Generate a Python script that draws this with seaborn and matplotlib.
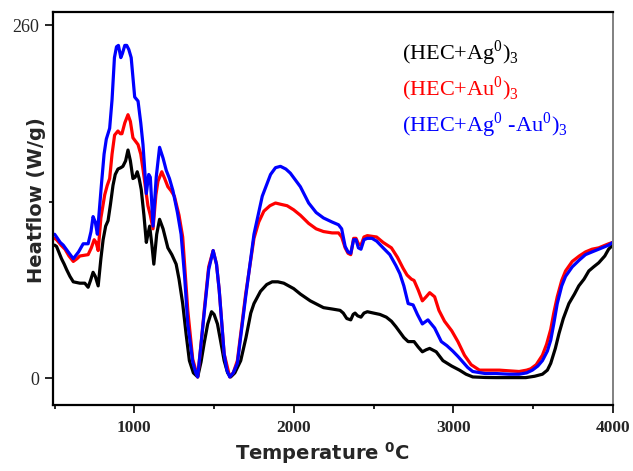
import numpy as np
import pandas as pd
from matplotlib import pyplot as plt
from matplotlib.ticker import FixedLocator
import seaborn as sns

# temperature / heat flow
t_ag = [500, 512, 543, 560, 575, 596, 617, 658, 689, 710, 725, 741, 755, 773, 790, 804, 820, 835, 850, 866,
        880, 897, 915, 928, 945, 960, 975, 991, 1005, 1018, 1030, 1043, 1060, 1075, 1085, 1096, 1110, 1122,
        1140, 1158, 1180, 1210, 1235, 1262, 1280, 1303, 1325, 1345, 1370, 1397, 1418, 1438, 1460, 1484,
        1500, 1521, 1540, 1563, 1585, 1604, 1630, 1667, 1700, 1730, 1750, 1791, 1830, 1864, 1900, 1937,
        1999, 2041, 2103, 2186, 2240, 2290, 2310, 2332, 2357, 2372, 2384, 2400, 2421, 2440, 2461, 2500,
        2540, 2580, 2612, 2640, 2665, 2690, 2717, 2754, 2780, 2806, 2830, 2852, 2893, 2935, 2990, 3039,
        3080, 3122, 3200, 3268, 3350, 3455, 3510, 3559, 3590, 3611, 3640, 3663, 3690, 3725, 3760, 3787,
        3820, 3850, 3880, 3912, 3950, 3974, 4000]
hf_ag = [98, 97, 88, 84, 80, 75, 71, 70, 70, 67, 72, 78, 75, 68, 88, 102, 112, 116, 128, 142,
         150, 154, 155, 156, 160, 168, 160, 147, 148, 152, 147, 139, 120, 100, 106, 112, 98, 84,
         106, 117, 110, 96, 91, 84, 73, 55, 32, 13, 4, 1, 12, 26, 40, 49,
         47, 40, 28, 13, 4, 1, 4, 13, 30, 48, 55, 64, 69, 71, 71, 70,
         66, 62, 57, 52, 51, 50, 48, 44, 43, 47, 48, 46, 45, 48, 49, 48,
         47, 45, 42, 38, 34, 30, 27, 27, 23, 19.5, 21, 22, 19.5, 13, 9, 6,
         3, 1, 0.6, 0.5, 0.5, 0.5, 1.5, 3, 6, 11, 22, 33, 44, 55, 62, 68,
         73, 79, 82, 85, 90, 95, 98]

t_au = [500, 512, 540, 565, 590, 617, 640, 658, 710, 730, 748, 760, 773, 790, 814, 830, 845, 860, 876, 897,
        912, 922, 940, 960, 975, 991, 1023, 1040, 1054, 1070, 1085, 1100, 1117, 1135, 1148, 1172, 1190,
        1210, 1230, 1251, 1280, 1303, 1335, 1366, 1397, 1418, 1438, 1466, 1494, 1515, 1532, 1563, 1598,
        1620, 1646, 1698, 1750, 1780, 1812, 1850, 1885, 1920, 1958, 1999, 2041, 2093, 2140, 2186, 2240,
        2280, 2300, 2322, 2340, 2357, 2375, 2390, 2405, 2421, 2440, 2461, 2519, 2560, 2612, 2650, 2685,
        2710, 2737, 2754, 2780, 2806, 2830, 2852, 2883, 2910, 2945, 2990, 3029, 3070, 3112, 3164, 3230,
        3289, 3350, 3413, 3460, 3486, 3520, 3559, 3585, 3611, 3630, 3652, 3680, 3704, 3746, 3790, 3829,
        3870, 3912, 3974, 4000]
hf_au = [103, 102, 98, 95, 90, 86, 88, 90, 91, 96, 102, 100, 94, 118, 135, 142, 147, 165, 179, 182,
         180, 180, 188, 194, 189, 177, 172, 165, 154, 140, 127, 120, 110, 135, 145, 152, 147,
         141, 138, 134, 120, 104, 50, 14, 1, 25, 50, 82, 94, 84, 65, 18, 1,
         4, 13, 62, 103, 115, 123, 127, 129, 128, 127, 124, 120, 114, 110, 108, 107,
         107, 104, 96, 92, 91, 103, 103, 99, 98, 104, 105, 104, 100, 96, 89, 81,
         76, 73, 72, 65, 57, 60, 63, 60, 50, 42, 35, 27, 17, 10, 6, 6,
         6, 5.5, 5, 6, 7, 10, 17, 25, 36, 48, 60, 72, 79, 86, 90, 93,
         95, 96, 99, 100]

t_agau = [500, 512, 535, 554, 585, 617, 650, 679, 710, 728, 741, 755, 768, 793, 810, 824, 845, 860, 875, 888,
          900, 915, 925, 940, 952, 965, 980, 1002, 1023, 1040, 1054, 1075, 1090, 1100, 1117, 1137, 1158,
          1180, 1200, 1220, 1242, 1270, 1293, 1315, 1335, 1366, 1385, 1397, 1418, 1438, 1466, 1494, 1515,
          1532, 1563, 1580, 1598, 1620, 1646, 1698, 1750, 1802, 1854, 1885, 1916, 1950, 1978, 2041, 2093,
          2140, 2186, 2240, 2280, 2300, 2322, 2340, 2357, 2375, 2390, 2405, 2421, 2440, 2461, 2490, 2519,
          2560, 2602, 2640, 2665, 2690, 2717, 2748, 2775, 2806, 2841, 2883, 2925, 2960, 2997, 3030, 3060,
          3090, 3122, 3200, 3268, 3350, 3413, 3460, 3496, 3530, 3559, 3590, 3611, 3630, 3652, 3680, 3704,
          3746, 3790, 3829, 3870, 3912, 3974, 4000]
hf_agau = [106, 104, 100, 98, 93, 88, 93, 99, 99, 108, 119, 115, 106, 142, 165, 176, 184, 205, 236, 244,
           245, 236, 239, 245, 245, 242, 236, 207, 204, 188, 172, 136, 150, 148, 112, 148, 170,
           162, 153, 147, 138, 122, 106, 75, 40, 12, 4, 1, 25, 48, 80, 94, 84,
           65, 18, 6, 1, 4, 11, 60, 106, 134, 150, 155, 156, 154, 151, 141, 129,
           122, 118, 115, 113, 110, 97, 93, 92, 102, 102, 96, 95, 102, 103, 103, 101,
           96, 91, 83, 77, 68, 55, 54, 47, 40, 43, 37, 27, 24, 20, 16, 12,
           8, 5, 3.5, 3.5, 3, 3, 4, 6, 9, 13, 20, 28, 40, 55, 68, 75,
           82, 87, 91, 93, 95, 98, 100]

labels = ["(HEC+Ag$^0$)$_3$", "(HEC+Au$^0$)$_3$", "(HEC+Ag$^0$ -Au$^0$)$_3$"]
colors = ["black", "#ff0000", "#0000ff"]

sns.set_style("ticks")
plt.rcParams['font.family'] = ['DejaVu Sans']
plt.rcParams['mathtext.fontset'] = 'custom'
plt.rcParams['mathtext.rm'] = 'Liberation Serif'
plt.rcParams['mathtext.bf'] = 'DejaVu Sans:bold'

fig = plt.figure(figsize=(6.33, 4.71), dpi=100)
ax = fig.add_axes([0.0833, 0.140, 0.8847, 0.834])

series = [(t_ag, hf_ag), (t_au, hf_au), (t_agau, hf_agau)]
for (t, hf), c in zip(series, colors):
    sns.lineplot(x=t, y=hf, color=c, lw=2.3, ax=ax, estimator=None)

ax.set_xlim(488, 4000)
ax.set_ylim(-19.7, 269.4)

ax.xaxis.set_major_locator(FixedLocator([1000, 2000, 3000, 4000]))
ax.xaxis.set_minor_locator(FixedLocator([500, 1500, 2500, 3500]))
ax.yaxis.set_major_locator(FixedLocator([0, 260]))
ax.yaxis.set_minor_locator(FixedLocator([130]))
ax.tick_params(which='major', length=6, width=1.4, direction='out')
ax.tick_params(which='minor', length=3.2, width=1.4, direction='out')
ax.tick_params(axis='x', which='major', pad=5)
ax.tick_params(axis='y', which='major', pad=4)
for lab in ax.get_xticklabels():
    lab.set_fontfamily('Liberation Serif')
    lab.set_fontweight('bold')
    lab.set_fontsize(12.5)
for lab in ax.get_yticklabels():
    lab.set_fontfamily('Liberation Serif')
    lab.set_fontsize(13)

for side in ['left', 'bottom', 'top']:
    ax.spines[side].set_linewidth(1.6)
    ax.spines[side].set_color('black')
ax.spines['right'].set_linewidth(1.4)
ax.spines['right'].set_color('#808080')

ax.set_xlabel(r"Temperature $^{\mathbf{0}}$C", fontsize=14, fontweight='bold')
ax.set_ylabel("Heatflow (W/g)", fontsize=14, fontweight='bold')
ax.xaxis.set_label_coords(0.481, -0.089)
ax.yaxis.set_label_coords(-0.012, 0.522)

ys = [0.8785, 0.789, 0.696]
for lab, c, y in zip(labels, colors, ys):
    ax.text(0.624, y, lab, color=c, fontsize=16, fontfamily='Liberation Serif',
            transform=ax.transAxes, va='baseline', ha='left')

plt.savefig("out.png", dpi=100)
